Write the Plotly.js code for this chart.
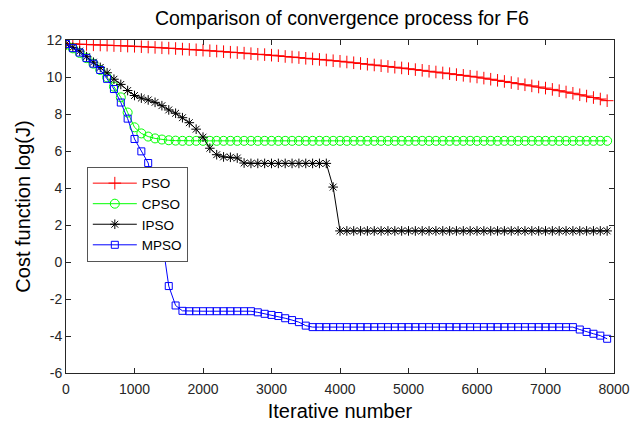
<!DOCTYPE html>
<html>
<head>
<meta charset="utf-8">
<script src="https://cdn.plot.ly/plotly-3.0.1.min.js"></script>
<style>
  html, body { margin: 0; padding: 0; background: #fff; }
  #chart { width: 632px; height: 429px; }
</style>
</head>
<body>
<div id="chart"></div>
<script>
// Iteration counts at which each algorithm's best cost was recorded
const iterations = [
  0, 100, 200, 300, 400, 500, 600, 700, 800, 900,
  1000, 1100, 1200, 1300, 1400, 1500, 1600, 1700, 1800, 1900,
  2000, 2100, 2200, 2300, 2400, 2500, 2600, 2700, 2800, 2900,
  3000, 3100, 3200, 3300, 3400, 3500, 3600, 3700, 3800, 3900,
  4000, 4100, 4200, 4300, 4400, 4500, 4600, 4700, 4800, 4900,
  5000, 5100, 5200, 5300, 5400, 5500, 5600, 5700, 5800, 5900,
  6000, 6100, 6200, 6300, 6400, 6500, 6600, 6700, 6800, 6900,
  7000, 7100, 7200, 7300, 7400, 7500, 7600, 7700, 7800, 7900
];

// log(J) per algorithm
const psoCost = [
  11.80, 11.79, 11.77, 11.76, 11.74, 11.73, 11.72, 11.70, 11.69, 11.67,
  11.66, 11.64, 11.62, 11.60, 11.58, 11.56, 11.54, 11.51, 11.49, 11.47,
  11.45, 11.42, 11.40, 11.37, 11.34, 11.32, 11.29, 11.26, 11.23, 11.21,
  11.18, 11.15, 11.11, 11.08, 11.05, 11.01, 10.98, 10.95, 10.92, 10.88,
  10.85, 10.81, 10.77, 10.73, 10.69, 10.65, 10.61, 10.57, 10.53, 10.49,
  10.45, 10.40, 10.36, 10.31, 10.27, 10.22, 10.18, 10.13, 10.09, 10.04,
  10.00, 9.94, 9.88, 9.82, 9.76, 9.70, 9.64, 9.58, 9.52, 9.46,
  9.40, 9.33, 9.26, 9.19, 9.12, 9.04, 8.97, 8.89, 8.81, 8.72
];

const cpsoCost = [
  11.75, 11.55, 11.30, 11.02, 10.72, 10.38, 9.98, 9.48, 8.90, 8.08,
  7.28, 6.95, 6.78, 6.68, 6.62, 6.58, 6.56, 6.55, 6.55, 6.55,
  6.55, 6.55, 6.55, 6.55, 6.55, 6.55, 6.55, 6.55, 6.55, 6.55,
  6.55, 6.55, 6.55, 6.55, 6.55, 6.55, 6.55, 6.55, 6.55, 6.55,
  6.55, 6.55, 6.55, 6.55, 6.55, 6.55, 6.55, 6.55, 6.55, 6.55,
  6.55, 6.55, 6.55, 6.55, 6.55, 6.55, 6.55, 6.55, 6.55, 6.55,
  6.55, 6.55, 6.55, 6.55, 6.55, 6.55, 6.55, 6.55, 6.55, 6.55,
  6.55, 6.55, 6.55, 6.55, 6.55, 6.55, 6.55, 6.55, 6.55, 6.55
];

const ipsoCost = [
  11.78, 11.60, 11.40, 11.10, 10.80, 10.52, 10.23, 9.88, 9.60, 9.27,
  9.00, 8.86, 8.76, 8.63, 8.45, 8.22, 8.04, 7.80, 7.53, 7.18,
  6.75, 6.15, 5.80, 5.68, 5.66, 5.62, 5.35, 5.33, 5.33, 5.33,
  5.33, 5.33, 5.33, 5.33, 5.33, 5.33, 5.33, 5.33, 5.33, 4.05,
  1.68, 1.68, 1.68, 1.68, 1.68, 1.68, 1.68, 1.68, 1.68, 1.68,
  1.68, 1.68, 1.68, 1.68, 1.68, 1.68, 1.68, 1.68, 1.68, 1.68,
  1.68, 1.68, 1.68, 1.68, 1.68, 1.68, 1.68, 1.68, 1.68, 1.68,
  1.68, 1.68, 1.68, 1.68, 1.68, 1.68, 1.68, 1.68, 1.68, 1.68
];

const mpsoCost = [
  11.78, 11.56, 11.32, 11.02, 10.72, 10.38, 9.90, 9.35, 8.62, 7.75,
  6.65, 5.98, 5.35, 3.40, 1.30, -1.30, -2.35, -2.64, -2.66, -2.66,
  -2.66, -2.66, -2.66, -2.66, -2.66, -2.66, -2.66, -2.66, -2.72, -2.80,
  -2.86, -2.92, -3.04, -3.14, -3.25, -3.44, -3.52, -3.52, -3.52, -3.52,
  -3.52, -3.52, -3.52, -3.52, -3.52, -3.52, -3.52, -3.52, -3.52, -3.52,
  -3.52, -3.52, -3.52, -3.52, -3.52, -3.52, -3.52, -3.52, -3.52, -3.52,
  -3.52, -3.52, -3.52, -3.52, -3.52, -3.52, -3.52, -3.52, -3.52, -3.52,
  -3.52, -3.52, -3.52, -3.52, -3.52, -3.65, -3.78, -3.88, -3.98, -4.15
];

const xTickVals = [0, 1000, 2000, 3000, 4000, 5000, 6000, 7000, 8000];
const xTickText = ['0', '1000', '2000', '3000', '4000', '5000', '6000', '7000', '8000'];
const yTickVals = [-6, -4, -2, 0, 2, 4, 6, 8, 10, 12];
const yTickText = ['-6', '-4', '-2', '0', '2', '4', '6', '8', '10', '12'];

const FONT = '"Liberation Sans", Arial, Helvetica, sans-serif';
const AXIS_COLOR = '#262626';

function series(name, y, color, symbol, size) {
  return {
    x: iterations,
    y: y,
    name: name,
    type: 'scatter',
    mode: 'lines+markers',
    line: { color: color, width: 1 },
    marker: { symbol: symbol, size: size, color: color, line: { color: color, width: 1 } }
  };
}

const traces = [
  series('PSO', psoCost, '#ff0000', 'cross-thin-open', 9),
  series('CPSO', cpsoCost, '#00ff00', 'circle-open', 9),
  series('IPSO', ipsoCost, '#000000', 'asterisk-open', 8),
  series('MPSO', mpsoCost, '#0000ff', 'square-open', 7)
];

const axisCommon = {
  showline: true,
  linecolor: AXIS_COLOR,
  linewidth: 1,
  mirror: 'ticks',
  ticks: 'inside',
  ticklen: 5,
  tickwidth: 1,
  tickcolor: AXIS_COLOR,
  showgrid: false,
  zeroline: false,
  tickfont: { family: FONT, size: 14, color: AXIS_COLOR }
};

const layout = {
  width: 632,
  height: 429,
  margin: { l: 66, r: 18, t: 40, b: 56, pad: 0 },
  paper_bgcolor: '#ffffff',
  plot_bgcolor: '#ffffff',
  font: { family: FONT, color: '#000000' },
  title: {
    text: 'Comparison of convergence process for F6',
    font: { family: FONT, size: 19.5, color: '#000000' },
    x: 0.541, xanchor: 'center',
    y: 0.958, yanchor: 'middle'
  },
  xaxis: Object.assign({}, axisCommon, {
    range: [0, 8000],
    tickmode: 'array',
    tickvals: xTickVals,
    ticktext: xTickText,
    ticklabelstandoff: 3,
    title: { text: 'Iterative number', font: { family: FONT, size: 20, color: '#000000' }, standoff: 8 }
  }),
  yaxis: Object.assign({}, axisCommon, {
    range: [-6, 12],
    tickmode: 'array',
    tickvals: yTickVals,
    ticktext: yTickText,
    title: { text: 'Cost function log(J)', font: { family: FONT, size: 20, color: '#000000' }, standoff: 10 }
  }),
  legend: {
    x: 0.038, xanchor: 'left',
    y: 0.619, yanchor: 'top',
    bgcolor: '#ffffff',
    bordercolor: '#555555',
    borderwidth: 1,
    itemwidth: 44,
    font: { family: FONT, size: 13.5, color: '#000000' },
    tracegroupgap: 0
  },
  showlegend: true
};

Plotly.newPlot('chart', traces, layout, { staticPlot: true, displayModeBar: false });
</script>
</body>
</html>
